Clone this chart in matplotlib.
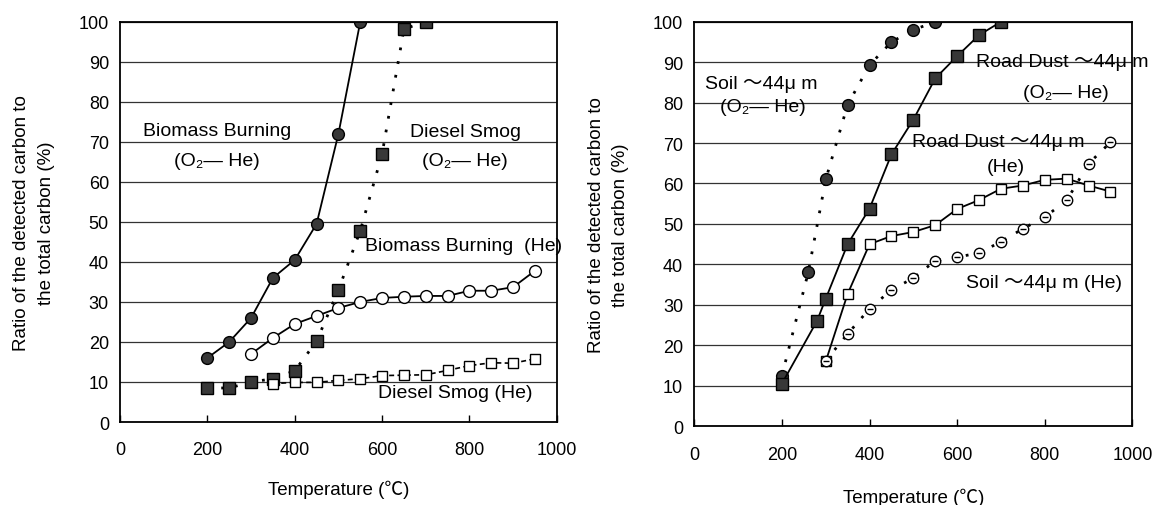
import matplotlib
matplotlib.use('Agg')
import matplotlib.pyplot as plt

plt.rcParams['font.family'] = ['Liberation Sans', 'Noto Sans CJK JP', 'DejaVu Sans']

# left panel: biomass burning / diesel smog
bb_o2_t = [200, 250, 300, 350, 400, 450, 500, 550]
bb_o2_v = [16, 20, 26, 36, 40.5, 49.5, 72, 100]
bb_he_t = [300, 350, 400, 450, 500, 550, 600, 650, 700, 750, 800, 850, 900, 950]
bb_he_v = [17, 21, 24.5, 26.5, 28.5, 30, 31, 31.3, 31.5, 31.5, 32.8, 32.8, 33.7, 37.8]
ds_o2_t = [200, 250, 300, 350, 400, 450, 500, 550, 600, 650, 700]
ds_o2_v = [8.5, 8.5, 10, 10.8, 12.8, 20.2, 33, 47.8, 67, 98.2, 100]
ds_he_t = [350, 400, 450, 500, 550, 600, 650, 700, 750, 800, 850, 900, 950]
ds_he_v = [9.6, 9.9, 9.9, 10.4, 10.8, 11.6, 11.7, 11.8, 12.9, 14.1, 14.8, 14.7, 15.8]

# right panel: soil / road dust (~44 um)
soil_o2_t = [200, 260, 300, 350, 400, 450, 500, 550]
soil_o2_v = [12.5, 38, 61, 79.5, 89.3, 95, 98, 100]
rd_o2_t = [200, 280, 300, 350, 400, 450, 500, 550, 600, 650, 700]
rd_o2_v = [10.5, 26, 31.5, 45, 53.8, 67.2, 75.8, 86, 91.5, 96.7, 100]
rd_he_t = [300, 350, 400, 450, 500, 550, 600, 650, 700, 750, 800, 850, 900, 950]
rd_he_v = [16, 32.7, 45, 47, 48, 49.7, 53.7, 55.9, 58.7, 59.5, 60.9, 61.2, 59.5, 58]
soil_he_t = [300, 350, 400, 450, 500, 550, 600, 650, 700, 750, 800, 850, 900, 950]
soil_he_v = [16.2, 22.8, 29, 33.7, 36.6, 40.9, 41.8, 42.8, 45.6, 48.8, 51.7, 55.8, 64.9, 70.2]

x_ticks = [0, 200, 400, 600, 800, 1000]
y_ticks = list(range(0, 101, 10))

FILL = '#383838'
DOT = (0, (1, 4))
fs = 13      # tick labels
afs = 14     # annotations
lfs = 13.5   # axis labels

fig = plt.figure(figsize=(11.65, 5.06), dpi=100)
ax1 = fig.add_axes([0.103, 0.164, 0.375, 0.791])
ax2 = fig.add_axes([0.596, 0.156, 0.376, 0.799])


def style(ax, xpad):
    ax.set_xlim(0, 1000)
    ax.set_ylim(0, 100)
    ax.set_xticks(x_ticks)
    ax.set_yticks(y_ticks)
    ax.tick_params(axis='x', direction='in', length=5, width=1, pad=14, labelsize=fs)
    ax.tick_params(axis='y', length=0, pad=8, labelsize=fs)
    ax.yaxis.grid(True, color='#333333', lw=0.9)
    ax.set_axisbelow(True)
    for s in ax.spines.values():
        s.set_linewidth(1.3)
    ax.set_ylabel('Ratio of the detected carbon to\nthe total carbon (%)',
                  fontsize=lfs, labelpad=17, linespacing=1.6)
    ax.set_xlabel('Temperature (℃)', fontsize=lfs, labelpad=xpad)


mk = dict(markersize=8.5, markeredgecolor='black', markeredgewidth=1)
mk_open = dict(markersize=7.5, markeredgecolor='black', markeredgewidth=1, markerfacecolor='white')

# left
ax1.plot(bb_o2_t, bb_o2_v, '-', color='black', lw=1.3, marker='o', markerfacecolor=FILL, **mk)
ax1.plot(bb_he_t, bb_he_v, '-', color='black', lw=1.3, marker='o', markerfacecolor='white', **mk)
ax1.plot(ds_o2_t, ds_o2_v, color='black', lw=2, ls=DOT, marker='s', markerfacecolor=FILL, **mk)
ax1.plot(ds_he_t, ds_he_v, color='black', lw=1.2, ls=(0, (3, 2)), marker='s', **mk_open)
style(ax1, 15)

ax1.text(222, 72.8, 'Biomass Burning', fontsize=afs, ha='center', va='center')
ax1.text(222, 65.3, '(O₂— He)', fontsize=afs, ha='center', va='center')
ax1.text(790, 72.6, 'Diesel Smog', fontsize=afs, ha='center', va='center')
ax1.text(790, 65.3, '(O₂— He)', fontsize=afs, ha='center', va='center')
ax1.text(560, 44, 'Biomass Burning  (He)', fontsize=afs, ha='left', va='center')
ax1.text(590, 7.3, 'Diesel Smog (He)', fontsize=afs, ha='left', va='center')

# right
ax2.plot(soil_o2_t, soil_o2_v, color='black', lw=2, ls=DOT, marker='o', markerfacecolor=FILL, **mk)
ax2.plot(rd_o2_t, rd_o2_v, '-', color='black', lw=1.3, marker='s', markerfacecolor=FILL, **mk)
ax2.plot(rd_he_t, rd_he_v, '-', color='black', lw=1.3, marker='s', **mk_open)
ax2.plot(soil_he_t, soil_he_v, color='black', lw=2, ls=DOT, marker='o', **mk_open)
ax2.plot(soil_he_t, soil_he_v, ls='none', marker='_', color='black', markersize=4, markeredgewidth=1)
style(ax2, 18)

ax2.text(25, 84.7, 'Soil ～44μ m', fontsize=afs, ha='left', va='center')
ax2.text(59, 79, '(O₂— He)', fontsize=afs, ha='left', va='center')
ax2.text(642, 90.1, 'Road Dust ～44μ m', fontsize=afs, ha='left', va='center')
ax2.text(751, 82.4, '(O₂— He)', fontsize=afs, ha='left', va='center')
ax2.text(498, 70.3, 'Road Dust ～44μ m', fontsize=afs, ha='left', va='center')
ax2.text(667, 64.1, '(He)', fontsize=afs, ha='left', va='center')
ax2.text(621, 35.4, 'Soil ～44μ m (He)', fontsize=afs, ha='left', va='center')

fig.savefig('out.png', dpi=100, facecolor='white')
